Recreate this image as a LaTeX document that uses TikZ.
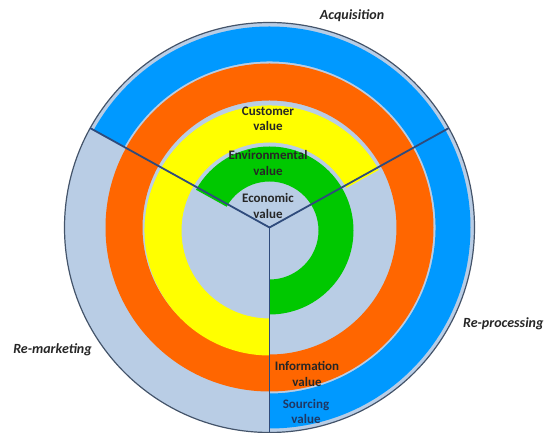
\documentclass[tikz,border=0pt]{standalone}
\usepackage{fontspec}
\setmainfont{Carlito}
\usepackage{xcolor}
\usetikzlibrary{calc}

\definecolor{pale}{HTML}{B9CDE5}
\definecolor{rim}{HTML}{44546A}
\definecolor{spoke}{HTML}{2F4B7C}
\definecolor{srcblue}{HTML}{0099FF}
\definecolor{infoorange}{HTML}{FF6600}
\definecolor{custyellow}{HTML}{FFFF00}
\definecolor{envgreen}{HTML}{00C800}
\definecolor{ink}{HTML}{262626}
\definecolor{navy}{HTML}{1F3864}

% ring band: colour, start angle, end angle, inner radius, outer radius
\newcommand{\valueband}[5]{\fill[#1] (#2:#5pt) arc[start angle=#2, end angle=#3, radius=#5pt] -- (#3:#4pt) arc[start angle=#3, end angle=#2, radius=#4pt] -- cycle;}

\tikzset{
  ringlabel/.style={font=\fontsize{13}{15.5}\selectfont\bfseries, text=ink, align=center, inner sep=0pt},
  phaselabel/.style={font=\fontsize{14}{17}\selectfont\bfseries\itshape, text=ink, inner sep=0pt},
}

\begin{document}
\begin{tikzpicture}[x=1pt,y=1pt]
\useasboundingbox (0,0) rectangle (547,433);
\coordinate (hub) at (269.5,205.5);

% background disc
\fill[pale] (hub) circle[radius=205pt];

% outer bands
\begin{scope}[shift={(hub)}]
\valueband{srcblue}{-90}{151}{166}{201}
\valueband{infoorange}{0}{360}{127}{164}
\end{scope}

% inner bands
\begin{scope}[shift={(269.5,202.5)}]
\valueband{custyellow}{29}{270}{88}{125}
\valueband{envgreen}{-90}{151}{49}{84}
\end{scope}

\draw[rim, line width=1.2pt] (hub) circle[radius=205pt];

% spokes
\foreach \a/\n in {29/rp, 151/rm, 270/ac} {
  \coordinate (\n) at ($(hub)+(\a:205pt)$);
  \draw[spoke, line width=1.8pt] (hub) -- (\n);
}

\node[ringlabel] (cust) at (268,314.2) {Customer\\value};
\node[ringlabel] (env) at (268,270) {Environmental\\value};
\node[ringlabel] (eco) at (268,227.2) {Economic\\value};
\node[ringlabel] (info) at (307,58.8) {Information\\value};
\node[ringlabel, text=navy] (src) at (306,21.3) {Sourcing\\value};

\node[phaselabel] (acq) at (352,417.3) {Acquisition};
\node[phaselabel] (rproc) at (503.3,109.7) {Re-processing};
\node[phaselabel] (rmkt) at (52.5,83.7) {Re-marketing};
\end{tikzpicture}
\end{document}
